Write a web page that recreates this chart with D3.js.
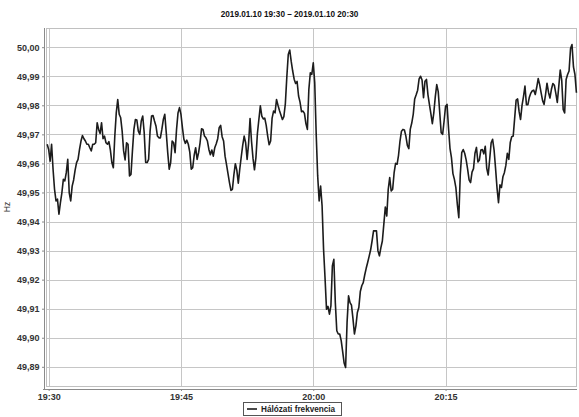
<!DOCTYPE html>
<html><head><meta charset="utf-8">
<script src="https://cdn.jsdelivr.net/npm/d3@7"></script>
<style>
body{margin:0;background:#fff;}
svg{display:block;font-family:"Liberation Sans",Arial,sans-serif;}
</style>
</head><body>
<svg id="chart" width="579" height="417"></svg>
<script>
// ---------------- data ----------------
const chartTitle = "2019.01.10 19:30 – 2019.01.10 20:30";
const yAxisLabel = "Hz";
const seriesName = "Hálózati frekvencia";
const startTime = new Date(2019, 0, 10, 19, 29, 50);
const stepSeconds = 10;
const domainStart = new Date(2019, 0, 10, 19, 29, 42);
const domainEnd = new Date(2019, 0, 10, 20, 29, 54);
const xTickLabels = ["19:30", "19:45", "20:00", "20:15"];
const yTickValues = [49.89, 49.90, 49.91, 49.92, 49.93, 49.94, 49.95, 49.96, 49.97, 49.98, 49.99, 50.00];
const yMin = 49.8834, yMax = 50.0066;

const frequency = [
49.9666,49.9648,49.9608,49.9666,49.9580,49.9511,49.9471,49.9477,49.9425,49.9465,
49.9499,49.9545,49.9540,49.9568,49.9614,49.9499,49.9471,49.9522,49.9543,49.9577,
49.9603,49.9614,49.9648,49.9677,49.9696,49.9685,49.9677,49.9666,49.9666,49.9654,
49.9643,49.9666,49.9666,49.9671,49.9740,49.9717,49.9703,49.9740,49.9685,49.9694,
49.9671,49.9666,49.9675,49.9646,49.9603,49.9585,49.9694,49.9774,49.9820,49.9769,
49.9757,49.9711,49.9643,49.9612,49.9671,49.9666,49.9557,49.9562,49.9643,49.9717,
49.9751,49.9749,49.9711,49.9700,49.9746,49.9763,49.9706,49.9603,49.9603,49.9614,
49.9711,49.9763,49.9765,49.9746,49.9729,49.9694,49.9688,49.9688,49.9717,49.9751,
49.9769,49.9706,49.9637,49.9580,49.9603,49.9677,49.9671,49.9637,49.9717,49.9774,
49.9792,49.9769,49.9723,49.9683,49.9669,49.9680,49.9666,49.9639,49.9580,49.9585,
49.9628,49.9654,49.9614,49.9637,49.9671,49.9719,49.9717,49.9694,49.9688,49.9677,
49.9648,49.9630,49.9646,49.9625,49.9654,49.9668,49.9685,49.9723,49.9731,49.9692,
49.9677,49.9625,49.9596,49.9565,49.9534,49.9507,49.9511,49.9561,49.9599,49.9577,
49.9532,49.9580,49.9622,49.9662,49.9694,49.9671,49.9614,49.9668,49.9754,49.9676,
49.9618,49.9578,49.9620,49.9703,49.9751,49.9798,49.9763,49.9753,49.9756,49.9731,
49.9694,49.9664,49.9677,49.9756,49.9780,49.9774,49.9820,49.9800,49.9782,49.9767,
49.9751,49.9761,49.9805,49.9896,49.9975,49.9990,49.9951,49.9918,49.9890,49.9875,
49.9882,49.9832,49.9811,49.9778,49.9780,49.9772,49.9737,49.9717,49.9855,49.9912,
49.9906,
49.9946,49.9877,49.9700,49.9557,49.9471,49.9522,49.9454,49.9305,49.9207,49.9098,
49.9108,49.9081,49.9110,49.9247,49.9270,49.9121,49.9024,49.9013,49.9013,49.8990,
49.8952,49.8913,49.8898,49.9053,49.9144,49.9121,49.9112,49.9066,49.9013,49.9041,
49.9087,49.9104,49.9159,49.9179,49.9190,49.9216,49.9239,49.9259,49.9280,49.9302,
49.9333,49.9368,49.9368,49.9368,49.9299,49.9282,49.9310,49.9333,49.9391,49.9450,
49.9419,49.9511,49.9551,49.9505,49.9511,49.9568,49.9600,49.9597,49.9628,49.9677,
49.9711,49.9717,49.9715,49.9694,49.9662,49.9651,49.9718,49.9739,49.9769,49.9822,
49.9836,49.9852,49.9891,
49.9900,49.9887,49.9826,49.9883,49.9889,49.9837,49.9803,49.9771,49.9737,49.9774,
49.9829,49.9871,49.9847,49.9777,49.9706,49.9700,49.9746,49.9797,49.9803,49.9722,
49.9652,49.9620,49.9565,49.9545,49.9517,49.9459,49.9413,49.9562,49.9637,49.9648,
49.9635,49.9612,49.9580,49.9543,49.9534,49.9570,49.9582,49.9635,49.9655,49.9605,
49.9612,49.9646,49.9648,49.9633,49.9659,49.9583,49.9560,49.9614,49.9671,49.9683,
49.9646,49.9583,49.9515,49.9465,49.9526,49.9517,49.9554,49.9568,49.9593,49.9635,
49.9614,49.9672,49.9692,49.9694,49.9756,49.9818,49.9822,49.9779,49.9751,49.9800,
49.9830,49.9866,49.9802,49.9802,49.9828,49.9842,49.9850,49.9852,49.9837,49.9862,
49.9892,49.9871,49.9843,49.9816,49.9803,49.9837,49.9876,49.9845,49.9825,49.9855,
49.9875,49.9869,49.9841,49.9810,49.9865,49.9921,49.9887,49.9786,49.9774,49.9889,
49.9906,49.9918,49.9995,50.0009,49.9932,49.9906,49.9843
];

// ---------------- drawing ----------------
const svg = d3.select("#chart");
const plotL = 46, plotR = 577, plotT = 28, plotB = 386;

const series = frequency.map((v, i) => ({
  t: new Date(startTime.getTime() + i * stepSeconds * 1000), v: v
}));

const x = d3.scaleTime().domain([domainStart, domainEnd]).range([plotL, plotR]);
const y = d3.scaleLinear().domain([yMin, yMax]).range([plotB, plotT]);
const parseHM = d3.timeParse("%Y-%m-%d %H:%M");
const xTickDates = xTickLabels.map(s => parseHM("2019-01-10 " + s));

svg.append("rect").attr("width", 579).attr("height", 417).attr("fill", "#fff");

// title
svg.append("text").attr("x", 289.5).attr("y", 16.5)
  .attr("text-anchor", "middle").attr("font-size", "8.2px").attr("font-weight", "bold")
  .attr("fill", "#111").text(chartTitle);

// plot background
svg.append("rect").attr("x", plotL).attr("y", plotT)
  .attr("width", plotR - plotL).attr("height", plotB - plotT).attr("fill", "#fff");

// grid
const grid = svg.append("g").attr("stroke", "#c6c6c6").attr("stroke-width", 1);
grid.selectAll("line.h").data(yTickValues).join("line").attr("class", "h")
  .attr("x1", plotL).attr("x2", plotR)
  .attr("y1", d => Math.round(y(d)) + 0.5).attr("y2", d => Math.round(y(d)) + 0.5);
grid.selectAll("line.v").data(xTickDates).join("line").attr("class", "v")
  .attr("y1", plotT).attr("y2", plotB)
  .attr("x1", d => Math.round(x(d)) + 0.5).attr("x2", d => Math.round(x(d)) + 0.5);

// plot border
svg.append("rect").attr("x", plotL + 0.5).attr("y", plotT + 0.5)
  .attr("width", plotR - plotL - 1).attr("height", plotB - plotT)
  .attr("fill", "none").attr("stroke", "#c0c0c0");

// series line
svg.append("path").datum(series)
  .attr("fill", "none").attr("stroke", "#1c1c1c").attr("stroke-width", 1.6)
  .attr("stroke-linejoin", "round")
  .attr("d", d3.line().x(d => x(d.t)).y(d => y(d.v)));

// y axis
const yAxis = svg.append("g").attr("transform", "translate(44,0)")
  .call(d3.axisLeft(y).tickValues(yTickValues)
    .tickFormat(d => d.toFixed(2).replace(".", ","))
    .tickSize(2).tickSizeOuter(0).tickPadding(2.5));
yAxis.select(".domain").attr("stroke", "#8a8a8a").attr("d", `M0.5,${plotT}V${plotB + 3}`);
yAxis.selectAll(".tick line").attr("stroke", "#8a8a8a");
yAxis.selectAll("text").attr("font-size", "9px").attr("font-weight", "bold").attr("fill", "#333")
  .attr("font-family", "'Liberation Sans', Arial, sans-serif");

// x axis
const xAxis = svg.append("g").attr("transform", "translate(0,389)")
  .call(d3.axisBottom(x).tickValues(xTickDates).tickFormat(d3.timeFormat("%H:%M"))
    .tickSize(2).tickSizeOuter(0).tickPadding(3));
xAxis.select(".domain").attr("stroke", "#8a8a8a").attr("d", `M${plotL - 3},0.5H${plotR}`);
xAxis.selectAll(".tick line").attr("stroke", "#8a8a8a");
xAxis.selectAll("text").attr("font-size", "9px").attr("font-weight", "bold").attr("fill", "#333")
  .attr("font-family", "'Liberation Sans', Arial, sans-serif");

// y axis label
svg.append("text").attr("transform", `translate(10,${(plotT + plotB) / 2}) rotate(-90)`)
  .attr("text-anchor", "middle").attr("font-size", "8.5px").attr("fill", "#333").text(yAxisLabel);

// legend
const lg = svg.append("g");
lg.append("rect").attr("x", 243.5).attr("y", 402.5).attr("width", 98).attr("height", 13)
  .attr("fill", "#fff").attr("stroke", "#555");
lg.append("line").attr("x1", 247).attr("x2", 257).attr("y1", 409).attr("y2", 409)
  .attr("stroke", "#1c1c1c").attr("stroke-width", 1.6);
lg.append("text").attr("x", 261).attr("y", 412).attr("font-size", "8.2px")
  .attr("font-weight", "bold").attr("fill", "#222").text(seriesName);
</script>
</body></html>
